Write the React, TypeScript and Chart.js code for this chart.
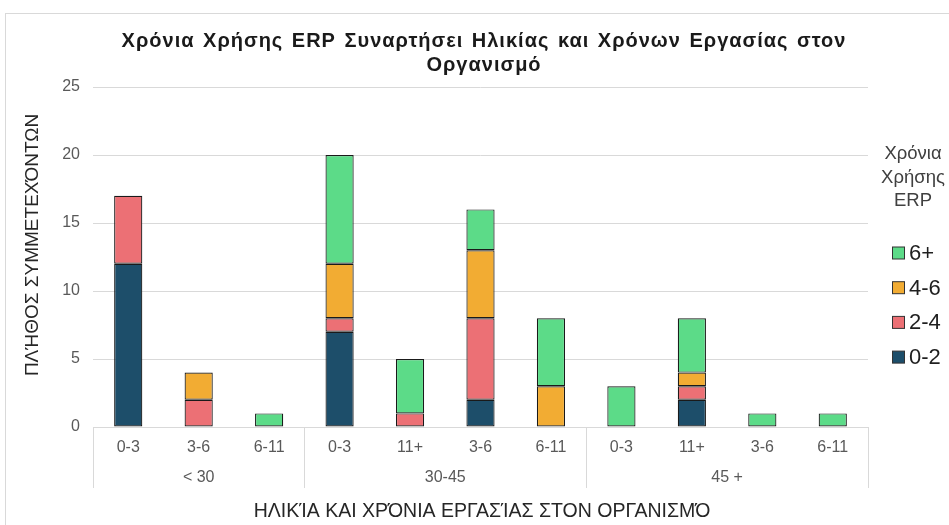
import React, { useEffect, useRef } from "react";
import { Chart, registerables } from "chart.js";

Chart.register(...registerables);

const categories = ["0-3", "3-6", "6-11", "0-3", "11+", "3-6", "6-11", "0-3", "11+", "3-6", "6-11"];
const groups = ["< 30", "30-45", "45 +"];
const groupSizes = [3, 4, 4];

const seriesNames = ["0-2", "2-4", "4-6", "6+"];
const values02 = [12, 0, 0, 7, 0, 2, 0, 0, 2, 0, 0];
const values24 = [5, 2, 0, 1, 1, 6, 0, 0, 1, 0, 0];
const values46 = [0, 2, 0, 4, 0, 5, 3, 0, 1, 0, 0];
const values6p = [0, 0, 1, 8, 4, 3, 5, 3, 4, 1, 1];
const seriesColors = ["#1D4E6A", "#EC7075", "#F2AC33", "#5CDB88"];

const yMax = 25;
const yStep = 5;

const titleLines = ["Χρόνια Χρήσης ERP Συναρτήσει Ηλικίας και Χρόνων Εργασίας στον", "Οργανισμό"];
const yTitle = "ΠΛΉΘΟΣ ΣΥΜΜΕΤΕΧΌΝΤΩΝ";
const xTitle = "ΗΛΙΚΊΑ ΚΑΙ ΧΡΌΝΙΑ ΕΡΓΑΣΊΑΣ ΣΤΟΝ ΟΡΓΑΝΙΣΜΌ";
const legendTitle = ["Χρόνια", "Χρήσης", "ERP"];

const FONT = "'Liberation Sans', Arial, sans-serif";

const decorPlugin = {
  id: "decor",
  beforeDraw(chart: any) {
    const ctx = chart.ctx;
    ctx.save();
    ctx.fillStyle = "#ffffff";
    ctx.fillRect(0, 0, chart.width, chart.height);
    ctx.strokeStyle = "#d9d9d9";
    ctx.lineWidth = 1;
    ctx.strokeRect(5.5, 13.5, 1200, 1200);
    ctx.restore();
  },
  afterDraw(chart: any) {
    const ctx = chart.ctx;
    const area = chart.chartArea;
    ctx.save();

    // Title
    ctx.fillStyle = "#1a1a1a";
    ctx.font = `bold 20px ${FONT}`;
    ctx.textAlign = "center";
    ctx.textBaseline = "middle";
    (ctx as any).letterSpacing = "1px";
    (ctx as any).wordSpacing = "2px";
    titleLines.forEach((t, i) => ctx.fillText(t, 484, 41 + i * 24));
    (ctx as any).letterSpacing = "0px";
    (ctx as any).wordSpacing = "0px";

    // Y title
    ctx.save();
    ctx.translate(33, 245);
    ctx.rotate(-Math.PI / 2);
    ctx.font = `19px ${FONT}`;
    ctx.fillStyle = "#262626";
    ctx.fillText(yTitle, 0, 0);
    ctx.restore();

    // X title
    ctx.font = `19.5px ${FONT}`;
    ctx.fillStyle = "#262626";
    ctx.fillText(xTitle, 482, 512);

    // Group separators and labels
    const step = (area.right - area.left) / categories.length;
    ctx.strokeStyle = "#d9d9d9";
    ctx.lineWidth = 1;
    let idx = 0;
    const bounds = [0];
    groupSizes.forEach((s) => {
      idx += s;
      bounds.push(idx);
    });
    bounds.forEach((b) => {
      const x = Math.round(area.left + b * step) + 0.5;
      ctx.beginPath();
      ctx.moveTo(x, area.bottom);
      ctx.lineTo(x, 488);
      ctx.stroke();
    });
    ctx.font = `16px ${FONT}`;
    ctx.fillStyle = "#595959";
    groups.forEach((g, i) => {
      const x = area.left + ((bounds[i] + bounds[i + 1]) / 2) * step;
      ctx.fillText(g, x, 478);
    });

    // Legend
    ctx.font = `18.5px ${FONT}`;
    ctx.fillStyle = "#404040";
    legendTitle.forEach((t, i) => ctx.fillText(t, 913, 154 + i * 23.5));
    const order = [3, 2, 1, 0];
    ctx.textAlign = "left";
    ctx.font = `22px ${FONT}`;
    order.forEach((si, i) => {
      const cy = 253 + i * 34.7;
      ctx.fillStyle = seriesColors[si];
      ctx.fillRect(892.5, cy - 6, 12, 12);
      ctx.strokeStyle = "#333333";
      ctx.strokeRect(892.5, cy - 6, 12, 12);
      ctx.fillStyle = "#1f1f1f";
      ctx.fillText(seriesNames[si], 909, cy + 1);
    });
    ctx.restore();
  },
};

export default function App() {
  const ref = useRef<HTMLCanvasElement | null>(null);
  useEffect(() => {
    if (!ref.current) return;
    const seriesValues = [values02, values24, values46, values6p];
    const chart = new Chart(ref.current, {
      type: "bar",
      data: {
        labels: categories,
        datasets: seriesNames.map((n, i) => ({
          label: n,
          data: seriesValues[i],
          backgroundColor: seriesColors[i],
          borderColor: "#1a1a1a",
          borderWidth: (c: any) => (c.raw ? 1.2 : 0),
          categoryPercentage: 1,
          barPercentage: 0.4,
          borderSkipped: false,
        })),
      },
      options: {
        responsive: false,
        animation: false,
        devicePixelRatio: 1,
        layout: { padding: { top: 87, right: 81, left: 0, bottom: 0 } },
        plugins: {
          legend: { display: false },
          title: { display: false },
          tooltip: { enabled: false },
        },
        scales: {
          x: {
            stacked: true,
            grid: { display: false, drawTicks: false },
            border: { display: true, color: "#d9d9d9" },
            ticks: {
              color: "#595959",
              font: { family: FONT, size: 16 },
              padding: 11,
              maxRotation: 0,
              autoSkip: false,
            },
            afterFit: (s: any) => {
              s.height = 98;
            },
          },
          y: {
            stacked: true,
            min: 0,
            max: yMax,
            ticks: {
              stepSize: yStep,
              color: "#595959",
              font: { family: FONT, size: 16 },
              padding: 13,
            },
            grid: { color: "#d9d9d9", drawTicks: false },
            border: { display: false },
            afterFit: (s: any) => {
              s.width = 93;
            },
          },
        },
      },
      plugins: [decorPlugin],
    } as any);
    return () => chart.destroy();
  }, []);
  return (
    <div style={{ position: "absolute", left: 0, top: 0, width: 949, height: 525 }}>
      <canvas ref={ref} width={949} height={525} style={{ display: "block" }} />
    </div>
  );
}
